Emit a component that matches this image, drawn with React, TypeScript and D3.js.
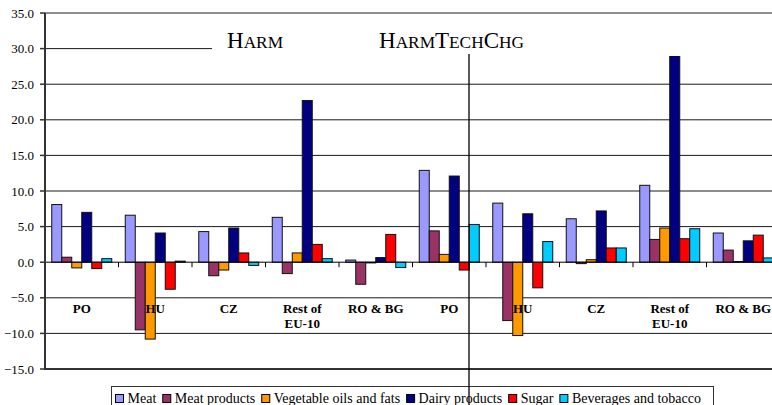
import React, { useEffect, useRef } from "react";
import * as d3 from "d3";

const categories: string[] = [
  "PO", "HU", "CZ", "Rest of\nEU-10", "RO & BG",
  "PO", "HU", "CZ", "Rest of\nEU-10", "RO & BG",
];
const seriesNames: string[] = [
  "Meat", "Meat products", "Vegetable oils and fats", "Dairy products", "Sugar", "Beverages and tobacco",
];
const seriesColors: string[] = ["#9999FF", "#993366", "#FF9900", "#000080", "#FF0000", "#00CCFF"];

const meat = [8.1, 6.6, 4.3, 6.3, 0.3, 12.9, 8.3, 6.1, 10.8, 4.1];
const meatProducts = [0.7, -9.5, -1.9, -1.6, -3.1, 4.4, -8.2, -0.2, 3.2, 1.7];
const vegOils = [-0.8, -10.8, -1.1, 1.3, -0.1, 1.1, -10.3, 0.35, 4.8, 0.1];
const dairy = [7.0, 4.1, 4.8, 22.7, 0.65, 12.1, 6.8, 7.2, 29.0, 3.0];
const sugar = [-0.9, -3.8, 1.3, 2.5, 3.9, -1.1, -3.6, 2.0, 3.3, 3.8];
const beverages = [0.5, 0.15, -0.45, 0.5, -0.75, 5.3, 2.9, 2.0, 4.7, 0.6];

const yTicks = [-15, -10, -5, 0, 5, 10, 15, 20, 25, 30, 35];
const titles = [
  [["H", "big"], ["ARM", "small"]],
  [["H", "big"], ["ARM", "small"], ["T", "big"], ["ECH", "small"], ["C", "big"], ["HG", "small"]],
];

const FONT = "'Liberation Serif', 'Times New Roman', serif";

export default function App() {
  const ref = useRef<SVGSVGElement>(null);

  useEffect(() => {
    const svg = d3.select(ref.current);
    svg.selectAll("*").remove();
    const W = 772, H = 405;
    const left = 45, right = 780, top = 13, bottom = 369;
    const allSeries = [meat, meatProducts, vegOils, dairy, sugar, beverages];

    const y = d3.scaleLinear().domain([-15, 35]).range([bottom, top]);
    const x0 = d3.scaleBand<number>().domain(d3.range(categories.length)).range([left, right]).padding(0);
    const x1 = d3.scaleBand<number>().domain(d3.range(seriesNames.length)).range([0, x0.bandwidth()]).paddingInner(0).paddingOuter(0.675);

    svg.append("rect").attr("width", W).attr("height", H).attr("fill", "#fff");

    // gridlines
    svg.append("g").selectAll("line").data(yTicks.filter(t => t !== 0 && t !== -15)).join("line")
      .attr("x1", left).attr("x2", right)
      .attr("y1", d => y(d)).attr("y2", d => y(d))
      .attr("stroke", "#1a1a1a").attr("stroke-width", 1);
    svg.append("line").attr("x1", left).attr("x2", right).attr("y1", y(-15)).attr("y2", y(-15))
      .attr("stroke", "#333").attr("stroke-width", 2);

    // bars
    const g = svg.append("g");
    allSeries.forEach((vals, si) => {
      g.append("g").selectAll("rect").data(vals).join("rect")
        .attr("x", (_, i) => (x0(i) as number) + (x1(si) as number))
        .attr("width", x1.bandwidth())
        .attr("y", d => y(Math.max(0, d)))
        .attr("height", d => Math.abs(y(d) - y(0)))
        .attr("fill", seriesColors[si])
        .attr("stroke", "#111").attr("stroke-width", 1);
    });

    // zero axis + category ticks
    svg.append("line").attr("x1", left).attr("x2", right).attr("y1", y(0)).attr("y2", y(0))
      .attr("stroke", "#000").attr("stroke-width", 1);
    svg.append("g").selectAll("line").data(d3.range(1, categories.length)).join("line")
      .attr("x1", i => x0(i) as number).attr("x2", i => x0(i) as number)
      .attr("y1", y(0)).attr("y2", y(0) + 5)
      .attr("stroke", "#000").attr("stroke-width", 1);

    // category labels
    const cl = svg.append("g").attr("font-family", FONT).attr("font-size", 13).attr("font-weight", "bold")
      .attr("text-anchor", "middle").attr("fill", "#000");
    categories.forEach((c, i) => {
      const cx = (x0(i) as number) + x0.bandwidth() / 2;
      const t = cl.append("text").attr("x", cx).attr("y", 313);
      c.split("\n").forEach((line, li) => {
        t.append("tspan").attr("x", cx).attr("dy", li === 0 ? 0 : 15).text(line);
      });
    });

    // left axis
    svg.append("line").attr("x1", left).attr("x2", left).attr("y1", top).attr("y2", bottom + 1)
      .attr("stroke", "#333").attr("stroke-width", 2);
    const ya = svg.append("g");
    ya.selectAll("line").data(yTicks).join("line")
      .attr("x1", left - 5).attr("x2", left).attr("y1", d => y(d)).attr("y2", d => y(d))
      .attr("stroke", "#333").attr("stroke-width", 1.5);
    ya.selectAll("text").data(yTicks).join("text")
      .attr("x", 34).attr("y", d => y(d)).attr("dy", "0.35em")
      .attr("text-anchor", "end").attr("font-family", FONT).attr("font-size", 13).attr("fill", "#000")
      .text(d => d3.format(".1f")(d));

    // title box
    svg.append("rect").attr("x", 212).attr("y", 21).attr("width", right - 212).attr("height", 35).attr("fill", "#fff");
    const titleX = [227, 379];
    titles.forEach((parts, ti) => {
      const t = svg.append("text").attr("x", titleX[ti]).attr("y", 48)
        .attr("font-family", FONT).attr("fill", "#000");
      parts.forEach(([s, kind]) => {
        t.append("tspan").attr("font-size", kind === "big" ? 23 : 17.3).text(s);
      });
    });

    // legend
    const lg = svg.append("g");
    lg.append("rect").attr("x", 111.5).attr("y", 386.5).attr("width", 602).attr("height", 30)
      .attr("fill", "#fff").attr("stroke", "#333").attr("stroke-width", 1);
    let lx = 115;
    seriesNames.forEach((name, si) => {
      lg.append("rect").attr("x", lx + 0.5).attr("y", 394.5).attr("width", 8).attr("height", 8)
        .attr("fill", seriesColors[si]).attr("stroke", "#000").attr("stroke-width", 1);
      const t = lg.append("text").attr("x", lx + 12.5).attr("y", 402.5)
        .attr("font-family", FONT).attr("font-size", 14).attr("fill", "#000").text(name);
      const w = (t.node() as SVGTextElement).getComputedTextLength();
      lx = lx + 12.5 + w + 6;
    });

    // divider
    svg.append("line").attr("x1", 469).attr("x2", 469).attr("y1", 54).attr("y2", H)
      .attr("stroke", "#000").attr("stroke-width", 1.3);
  }, []);

  return (
    <svg ref={ref} width={772} height={405}
      style={{ position: "absolute", left: 0, top: 0, display: "block" }} />
  );
}
